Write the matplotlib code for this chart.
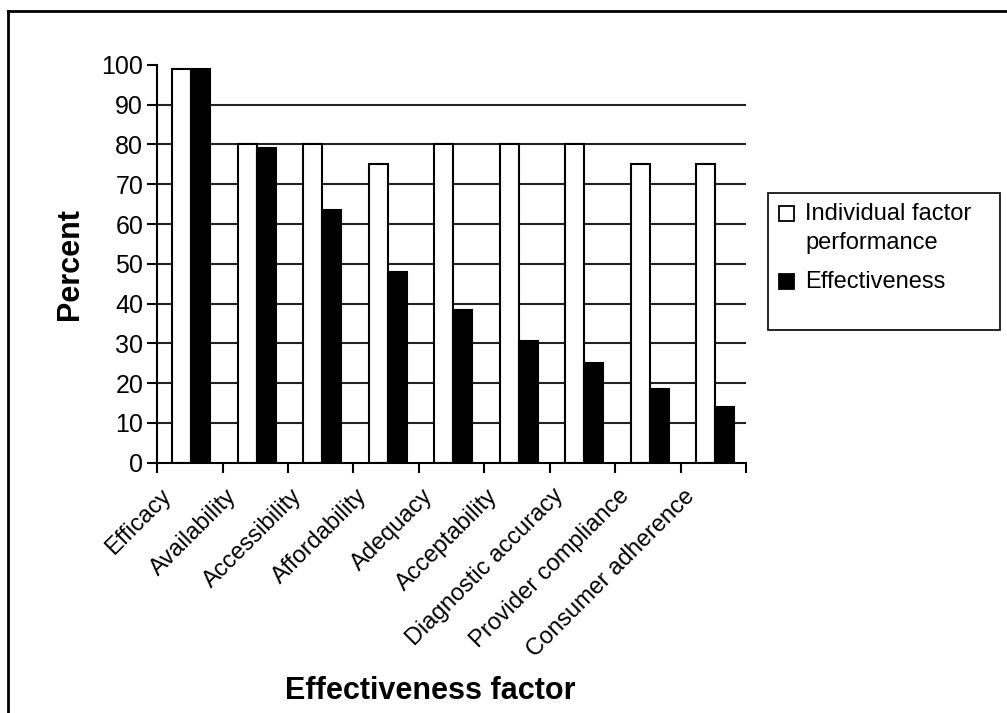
import numpy as np
import matplotlib.pyplot as plt
from matplotlib.patches import Rectangle
from matplotlib.lines import Line2D

plt.rcParams['font.family'] = ['Liberation Sans', 'DejaVu Sans']

# data
factors = ['Efficacy', 'Availability', 'Accessibility', 'Affordability', 'Adequacy',
           'Acceptability', 'Diagnostic accuracy', 'Provider compliance', 'Consumer adherence']
individual = [99, 80, 80, 75, 80, 80, 80, 75, 75]
effectiveness = [99, 79, 63.5, 48, 38.5, 30.5, 25, 18.5, 14]
yticks = [0, 10, 20, 30, 40, 50, 60, 70, 80, 90, 100]

fig = plt.figure(figsize=(10.07, 7.13), dpi=100)
ax = fig.add_axes([0.156, 0.351, 0.585, 0.558])

x = np.arange(len(factors))
w = 0.29

# horizontal gridlines (behind bars)
for t in yticks[1:-1]:
    ax.axhline(t, color='#222222', lw=1.5, zorder=0)

ax.bar(x - 0.12, individual, w, color='white', edgecolor='black', lw=1.5, zorder=2)
ax.bar(x + 0.17, effectiveness, w, color='black', edgecolor='black', lw=1.5, zorder=2)

ax.set_xlim(-0.5, len(factors) - 0.5)
ax.set_ylim(0, 100)
ax.set_yticks(yticks)
ax.tick_params(axis='y', labelsize=18, length=7, width=1.5, direction='out', pad=3)

# category ticks between groups, labels near centres
ax.set_xticks(np.arange(len(factors) + 1) - 0.5)
ax.set_xticklabels([])
ax.tick_params(axis='x', which='major', length=7, width=1.5, direction='out')
ax.set_xticks(x - 0.46, minor=True)
ax.set_xticklabels(factors, minor=True, rotation=45, ha='right',
                   rotation_mode='anchor', fontsize=17)
ax.tick_params(axis='x', which='minor', length=0, pad=16)

for s in ['top', 'right']:
    ax.spines[s].set_visible(False)
for s in ['left', 'bottom']:
    ax.spines[s].set_linewidth(1.5)

fig.text(70 / 1007, 1 - 264 / 713, 'Percent', fontsize=22, fontweight='bold',
         rotation=90, ha='center', va='center')
fig.text(430 / 1007, 1 - 691 / 713, 'Effectiveness factor', fontsize=22,
         fontweight='bold', ha='center', va='center')

# legend drawn by hand: handle sits on the first text line
W, H = 1007, 713
fig.add_artist(Rectangle((768 / W, 1 - 330 / H), 232 / W, 137 / H, transform=fig.transFigure,
                         facecolor='white', edgecolor='black', lw=1.2))
fig.add_artist(Rectangle((779 / W, 1 - 221 / H), 15 / W, 15 / H, transform=fig.transFigure,
                         facecolor='white', edgecolor='black', lw=1.3))
fig.add_artist(Rectangle((779 / W, 1 - 289 / H), 15 / W, 15 / H, transform=fig.transFigure,
                         facecolor='black', edgecolor='black', lw=1.3))
fig.text(805 / W, 1 - 214 / H, 'Individual factor', fontsize=17, va='center')
fig.text(805 / W, 1 - 243 / H, 'performance', fontsize=17, va='center')
fig.text(805 / W, 1 - 282 / H, 'Effectiveness', fontsize=17, va='center')

# outer frame lines (left and top)
fig.add_artist(Line2D([8 / W, 8 / W], [0, 1 - 11 / H], color='black', lw=2,
                      transform=fig.transFigure))
fig.add_artist(Line2D([8 / W, 1], [1 - 11 / H, 1 - 11 / H], color='black', lw=2,
                      transform=fig.transFigure))

fig.savefig('out.png', dpi=100)
